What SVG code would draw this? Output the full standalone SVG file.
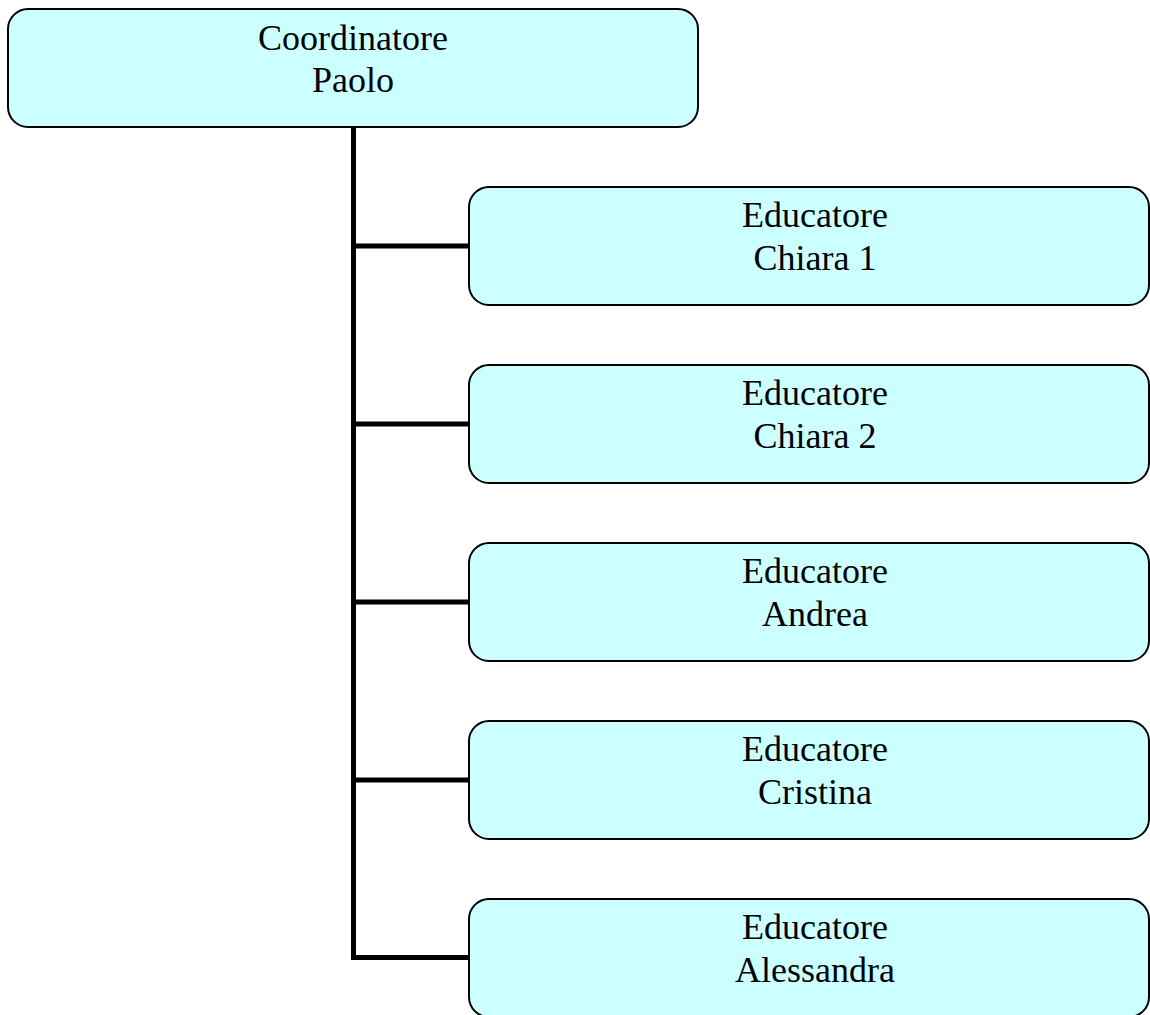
<svg xmlns="http://www.w3.org/2000/svg" width="1150" height="1015" viewBox="0 0 1150 1015">
<style>
.box{fill:#CCFFFF;stroke:#000;stroke-width:2}
.t{font-family:"Liberation Serif","Times New Roman",serif;font-size:36px;fill:#000;text-anchor:middle}
.c{fill:none;stroke:#000;stroke-width:5;stroke-linejoin:miter;stroke-linecap:butt}
</style>
<rect width="1150" height="1015" fill="#fff"/>
<g id="connectors">
<path class="c" d="M353.5,127 V957.5 H469"/>
<path class="c" d="M353.5,246 H469"/>
<path class="c" d="M353.5,424 H469"/>
<path class="c" d="M353.5,602 H469"/>
<path class="c" d="M353.5,780 H469"/>
</g>
<g id="coordinatore">
<rect class="box" x="8" y="9" width="690" height="118" rx="20" ry="20"/>
<text class="t" x="353" y="50">Coordinatore</text>
<text class="t" x="353" y="92">Paolo</text>
</g>
<g id="chiara1">
<rect class="box" x="469" y="187" width="680" height="118" rx="20" ry="20"/>
<text class="t" x="815" y="227">Educatore</text>
<text class="t" x="815" y="270">Chiara 1</text>
</g>
<g id="chiara2">
<rect class="box" x="469" y="365" width="680" height="118" rx="20" ry="20"/>
<text class="t" x="815" y="405">Educatore</text>
<text class="t" x="815" y="448">Chiara 2</text>
</g>
<g id="andrea">
<rect class="box" x="469" y="543" width="680" height="118" rx="20" ry="20"/>
<text class="t" x="815" y="583">Educatore</text>
<text class="t" x="815" y="626">Andrea</text>
</g>
<g id="cristina">
<rect class="box" x="469" y="721" width="680" height="118" rx="20" ry="20"/>
<text class="t" x="815" y="761">Educatore</text>
<text class="t" x="815" y="804">Cristina</text>
</g>
<g id="alessandra">
<rect class="box" x="469" y="899" width="680" height="118" rx="20" ry="20"/>
<text class="t" x="815" y="939">Educatore</text>
<text class="t" x="815" y="982">Alessandra</text>
</g>
</svg>
